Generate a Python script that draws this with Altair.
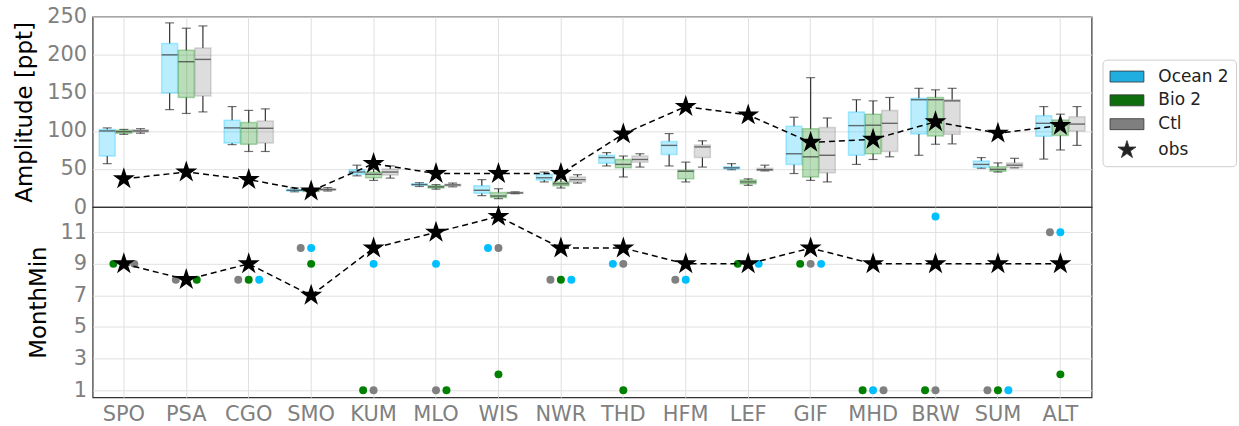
import altair as alt
import pandas as pd

# Stations along the x axis
stations = ["SPO", "PSA", "CGO", "SMO", "KUM", "MLO", "WIS", "NWR",
            "THD", "HFM", "LEF", "GIF", "MHD", "BRW", "SUM", "ALT"]
series_names = ["Ocean 2", "Bio 2", "Ctl"]

# Seasonal amplitude boxes per station: (whisker low, Q1, median, Q3, whisker high) [ppt]
ocean_box = [(57, 67, 100, 102, 104), (128, 150, 200, 215, 242), (82, 84, 104, 114, 132),
             (20, 21, 22, 23, 25), (41, 43, 46, 49, 55), (27, 28.5, 29.5, 30.5, 32),
             (15, 18, 22, 28, 36), (33, 35.5, 38.5, 43, 46), (54, 57.5, 65, 68, 71.5),
             (54, 69, 81, 86, 96.5), (49, 50, 51.5, 53, 57), (44, 56, 70, 106, 118),
             (56, 68, 107, 125, 141), (68, 96, 141, 143, 156), (51, 52, 56, 60.5, 65),
             (63, 93, 110, 120, 132)]
bio_box = [(95.5, 97, 99, 101, 102), (123, 144, 191, 206, 235), (73, 82.5, 103.5, 111, 127),
           (19, 20.5, 21.5, 23, 24), (35, 38.5, 43, 46, 50), (23.5, 25, 26.5, 28, 29.5),
           (11, 12.5, 14.5, 19, 24), (25, 28, 30.5, 33, 37), (39.5, 51.5, 56, 62.5, 67),
           (33, 37, 47, 48.5, 59), (28.5, 30.5, 33, 35.5, 37), (35, 39.5, 66, 103, 170),
           (62.5, 70, 107.5, 122, 139.5), (82.5, 93.5, 141, 144, 154), (46, 47, 49.5, 53, 58),
           (75, 94, 111, 114.5, 122)]
ctl_box = [(97, 98.5, 100, 101.5, 103), (125, 146, 194, 209, 238), (73, 84, 103.5, 113, 129),
           (21, 22, 23, 24, 25.5), (38, 42, 46, 50, 54), (26.5, 27.5, 29, 30, 31.5),
           (17.5, 18, 18.5, 19.5, 20), (31.5, 33, 36, 39.5, 42.5), (52.5, 59, 62.5, 67, 70),
           (52.5, 65, 79, 81.5, 87), (47.5, 48, 49, 51, 55), (33, 45, 68, 104.5, 117),
           (66, 73, 110, 127, 144), (83, 95.5, 139.5, 141, 156), (51.5, 52, 55, 58, 64),
           (81, 100, 109, 118.5, 132)]

# Observed amplitude [ppt]
obs_amp = [37, 46, 36, 21, 57, 44, 44, 44, 96, 132, 121, 85, 89, 112, 97, 107]

# Month of the seasonal minimum
obs_month = [9, 8, 9, 7, 10, 11, 12, 10, 10, 9, 9, 10, 9, 9, 9, 9]
ocean_month = [9, 8, 8, 10, 9, 9, 10, 8, 9, 8, 9, 9, 1, 12, 1, 11]
bio_month = [9, 8, 8, 9, 1, 1, 2, 8, 1, 9, 9, 9, 1, 1, 1, 2]
ctl_month = [9, 8, 8, 10, 1, 1, 10, 8, 9, 8, 9, 9, 1, 1, 1, 11]

# Side-by-side slot of each dot where months coincide (L / C / R)
ocean_slot = ["C", "C", "R", "C", "C", "C", "L", "R", "L", "C", "R", "R", "C", "C", "R", "C"]
bio_slot = ["L", "R", "C", "C", "L", "R", "C", "C", "C", "C", "L", "L", "L", "L", "C", "C"]
ctl_slot = ["R", "L", "L", "L", "C", "C", "C", "L", "C", "L", "C", "C", "R", "C", "L", "L"]

box_fill = {"Ocean 2": "#00bfff", "Bio 2": "#008000", "Ctl": "#808080"}
dot_color = {"Ocean 2": "#00bfff", "Bio 2": "#008000", "Ctl": "#808080"}
legend_names = ["Ocean 2", "Bio 2", "Ctl", "obs"]
legend_colors = ["#20aee0", "#0e6e0e", "#7f7f7f", "#222222"]

STAR = ("M0,-1 L0.2245,-0.309 L0.951,-0.309 L0.363,0.118 L0.588,0.809 L0,0.382 "
        "L-0.588,0.809 L-0.363,0.118 L-0.951,-0.309 L-0.2245,-0.309 Z")
# legend glyphs drawn a little right of the nominal symbol centre
SWATCH = "M-1.0,-0.58 L2.58,-0.58 L2.58,0.58 L-1.0,0.58 Z"
STAR_L = ("M0.79,-1 L1.0145,-0.309 L1.741,-0.309 L1.153,0.118 L1.378,0.809 L0.79,0.382 "
          "L0.202,0.809 L0.427,0.118 L-0.161,-0.309 L0.5655,-0.309 Z")

PLOT_W = 1003
PANEL_H = 191
STEP = PLOT_W / len(stations)
FONT = "DejaVu Sans"

box_rows = []
for name, boxes in zip(series_names, [ocean_box, bio_box, ctl_box]):
    for st, (lo, q1, md, q3, hi) in zip(stations, boxes):
        box_rows.append({"station": st, "series": name, "lo": lo, "q1": q1,
                         "med": md, "q3": q3, "hi": hi})
box_df = pd.DataFrame(box_rows)

obs_df = pd.DataFrame({"station": stations, "amp": obs_amp, "month": obs_month})

dot_rows = []
for name, months, slots in zip(series_names, [ocean_month, bio_month, ctl_month],
                               [ocean_slot, bio_slot, ctl_slot]):
    for st, m, s in zip(stations, months, slots):
        dot_rows.append({"station": st, "series": name, "month": m, "slot": s})
dot_df = pd.DataFrame(dot_rows)

x_scale = alt.Scale(domain=stations, paddingInner=0, paddingOuter=0)
x_top = alt.X("station:N", sort=stations, scale=x_scale,
              axis=alt.Axis(labels=False, title=None, grid=True, bandPosition=0.5,
                            minExtent=0, maxExtent=0))
x_bot = alt.X("station:N", sort=stations, scale=x_scale,
              axis=alt.Axis(title=None, grid=True, bandPosition=0.5, labelAngle=0,
                            labelPadding=6))
box_off = alt.XOffset("series:N", scale=alt.Scale(domain=series_names, paddingInner=0.04,
                                                  paddingOuter=0.397))
amp_scale = alt.Scale(domain=[0, 250], nice=False, zero=False)
amp_axis = alt.Axis(title="Amplitude [ppt]", values=[0, 50, 100, 150, 200, 250],
                    titlePadding=10, labelPadding=6)


def y_amp(field):
    return alt.Y(f"{field}:Q", scale=amp_scale, axis=amp_axis)


top_layers = []
for name in series_names:
    base = alt.Chart(box_df).transform_filter(alt.datum.series == name)
    c = box_fill[name]
    top_layers += [
        base.mark_rule(color="#333333", strokeWidth=1.2).encode(
            x=x_top, xOffset=box_off, y=y_amp("lo"), y2="q1:Q"),
        base.mark_rule(color="#333333", strokeWidth=1.2).encode(
            x=x_top, xOffset=box_off, y=y_amp("q3"), y2="hi:Q"),
        base.mark_tick(color="#333333", size=9, thickness=1.2).encode(
            x=x_top, xOffset=box_off, y=y_amp("lo")),
        base.mark_tick(color="#333333", size=9, thickness=1.2).encode(
            x=x_top, xOffset=box_off, y=y_amp("hi")),
        base.mark_bar(fill=c, fillOpacity=0.27, stroke=c, strokeOpacity=0.3,
                      strokeWidth=1.5).encode(x=x_top, xOffset=box_off, y=y_amp("q1"),
                                              y2="q3:Q"),
        base.mark_tick(color="#333333", size=16, thickness=1.4).encode(
            x=x_top, xOffset=box_off, y=y_amp("med")),
    ]

obs_line_top = alt.Chart(obs_df).mark_line(color="black", strokeDash=[6, 4],
                                           strokeWidth=1.5).encode(x=x_top, y=y_amp("amp"))
obs_star_top = alt.Chart(obs_df).mark_point(shape=STAR, filled=True, size=540, color="black",
                                            opacity=1).encode(x=x_top, y=y_amp("amp"))

legend_cfg = alt.Legend(title=None, orient="none", legendX=1014, legendY=43, padding=7,
                        strokeColor="#cccccc", cornerRadius=4, fillColor="white",
                        labelFont=FONT, labelFontSize=17, labelColor="#222222",
                        symbolSize=361, labelOffset=29, rowPadding=5.9,
                        symbolStrokeColor="#333333", symbolStrokeWidth=0.8)
legend_layer = alt.Chart(pd.DataFrame({"series": legend_names})).mark_point(
    filled=True, opacity=1).encode(
    color=alt.Color("series:N", scale=alt.Scale(domain=legend_names, range=legend_colors),
                    legend=legend_cfg),
    shape=alt.Shape("series:N", scale=alt.Scale(domain=legend_names,
                                                range=[SWATCH, SWATCH, SWATCH, STAR_L]),
                    legend=legend_cfg),
).transform_filter(alt.datum.series == "none")

top = alt.layer(*top_layers, obs_line_top, obs_star_top, legend_layer).properties(
    width=PLOT_W, height=PANEL_H)

# Lower panel: month of minimum; coinciding dots sit 7 px apart around the station centre
month_scale = alt.Scale(domain=[0.55, 12.6], nice=False, zero=False)
month_axis = alt.Axis(title="MonthMin", values=[1, 3, 5, 7, 9, 11],
                      titlePadding=10, labelPadding=6)
y_month = alt.Y("month:Q", scale=month_scale, axis=month_axis)
slot_off = alt.XOffset("slot:N", scale=alt.Scale(domain=["L", "C", "R"], paddingInner=0,
                                                 paddingOuter=0,
                                                 range=[STEP / 2 - 10.5, STEP / 2 + 10.5]))
bot_layers = []
for name in ["Ctl", "Bio 2", "Ocean 2"]:
    bot_layers.append(
        alt.Chart(dot_df).transform_filter(alt.datum.series == name)
        .mark_circle(size=64, opacity=1, color=dot_color[name])
        .encode(x=x_bot, xOffset=slot_off, y=y_month)
    )
obs_line_bot = alt.Chart(obs_df).mark_line(color="black", strokeDash=[6, 4],
                                           strokeWidth=1.5).encode(x=x_bot, y=y_month)
obs_star_bot = alt.Chart(obs_df).mark_point(shape=STAR, filled=True, size=540, color="black",
                                            opacity=1).encode(x=x_bot, y=y_month)
bottom = alt.layer(*bot_layers, obs_line_bot, obs_star_bot).properties(
    width=PLOT_W, height=PANEL_H)

chart = (
    alt.vconcat(top, bottom, spacing=0, bounds="flush")
    .resolve_scale(xOffset="independent")
    .properties(padding={"left": 13, "top": 4, "right": 2, "bottom": 2}, background="white")
    .configure_view(stroke="#333333", strokeWidth=1.2)
    .configure_axis(labelFont=FONT, titleFont=FONT, labelFontSize=21, titleFontSize=23,
                    labelColor="#808080", titleColor="black", titleFontWeight="normal",
                    gridColor="#e0e0e0", gridWidth=1, domain=False, ticks=False)
)

chart.save("out.html", embed_options={"renderer": "svg", "actions": False})
